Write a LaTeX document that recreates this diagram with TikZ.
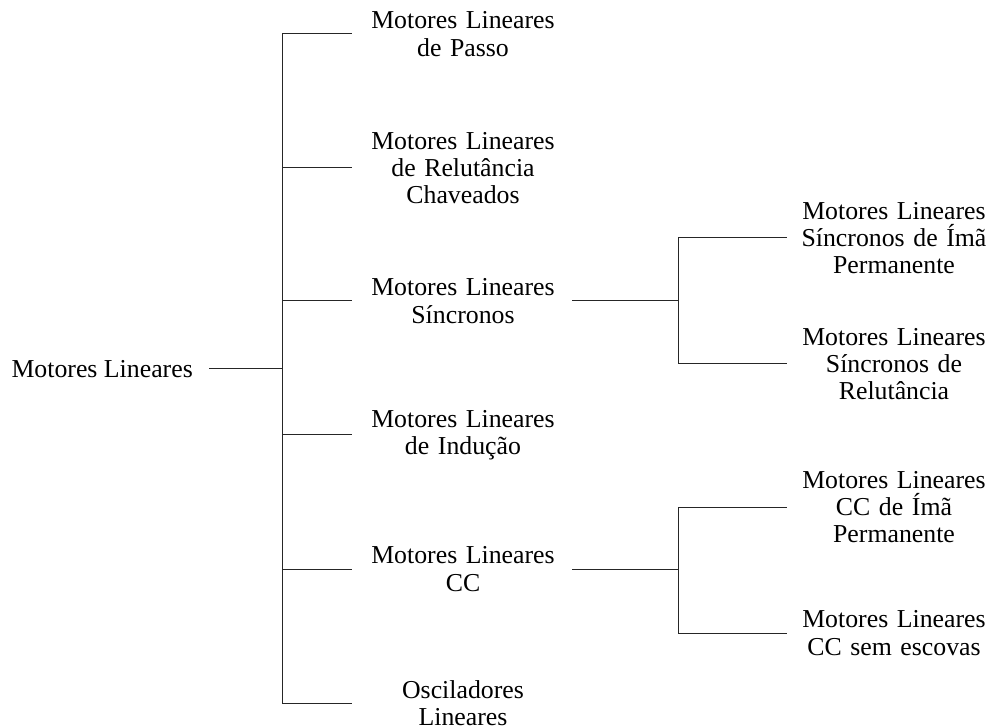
\documentclass[tikz,border=0pt]{standalone}
\usepackage{fontspec}
\setmainfont{Liberation Serif}
\begin{document}
\begin{tikzpicture}[x=1pt,y=-1pt,
  lbl/.style={inner sep=0pt, align=center, font=\fontsize{25.8}{27.3}\selectfont},
  kid/.style={lbl, text width=222pt},
  sub/.style={lbl, text width=214pt},
  wire/.style={line width=1pt, black!85}]
\useasboundingbox (0,0) rectangle (989,727);

% root
\node[lbl, anchor=east, inner xsep=16pt] (root) at (209,369) {Motores Lineares};

% first level
\node[kid] (passo) at (463,34)  {Motores Lineares\\de Passo};
\node[kid] (relut) at (463,168) {Motores Lineares\\de Relutância\\Chaveados};
\node[kid] (sinc)  at (463,301) {Motores Lineares\\Síncronos};
\node[kid] (induc) at (463,435) {Motores Lineares\\de Indução};
\node[kid] (cc)    at (463,569) {Motores Lineares\\CC};
\node[kid] (osc)   at (463,703) {Osciladores\\Lineares};

% second level
\node[sub] (sima)  at (894,238) {Motores Lineares\\Síncronos de Ímã\\Permanente};
\node[sub] (srel)  at (894,364) {Motores Lineares\\Síncronos de\\Relutância};
\node[sub] (ccima) at (894,507) {Motores Lineares\\CC de Ímã\\Permanente};
\node[sub] (ccsem) at (894,633) {Motores Lineares\\CC sem escovas};

% junctions
\coordinate (trunk) at (282,369);
\coordinate (sj) at (678,301);
\coordinate (cj) at (678,569);

% connectors
\draw[wire] (root.east) -- (trunk);
\draw[wire] (passo.west) -| (trunk |- osc.west) -- (osc.west);
\foreach \n in {relut,sinc,induc,cc}
  \draw[wire] (trunk |- \n.west) -- (\n.west);

\draw[wire] (sinc.east) ++(-2,0) -- (sj);
\draw[wire] (sima.west) -| (sj |- srel.west) -- (srel.west);

\draw[wire] (cc.east) ++(-2,0) -- (cj);
\draw[wire] (ccima.west) -| (cj |- ccsem.west) -- (ccsem.west);
\end{tikzpicture}
\end{document}
